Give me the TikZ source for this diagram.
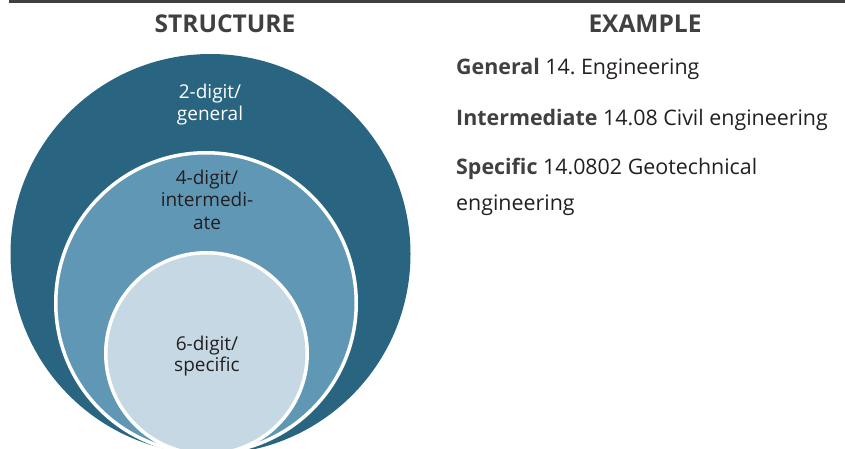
\documentclass[tikz,border=0pt]{standalone}
\usepackage{fontspec}
\setmainfont{Open Sans}
\frenchspacing
\definecolor{darkblue}{RGB}{41,101,129}
\definecolor{midblue}{RGB}{96,151,181}
\definecolor{lightblue}{RGB}{198,216,227}
\definecolor{headgray}{RGB}{64,64,64}
\definecolor{bodyblack}{RGB}{35,31,32}
\tikzset{
  ring/.style={draw=white,line width=3.5pt},
  heading/.style={anchor=base,inner sep=0pt,text=headgray,font=\fontsize{24.5pt}{28pt}\selectfont\bfseries},
  circtext/.style={anchor=base,inner sep=0pt,font=\fontsize{19pt}{22pt}\selectfont},
  example/.style={anchor=base west,inner sep=0pt,text=bodyblack,font=\fontsize{21.4pt}{25pt}\selectfont},
}
\newcommand{\hd}[1]{\textcolor{headgray}{\bfseries #1}}
\begin{document}
\begin{tikzpicture}[x=1pt,y=-1pt]
\useasboundingbox (0,0) rectangle (845,449);
\fill[headgray] (9,0) rectangle (845,3.3);
\begin{scope}
\clip (0,0) rectangle (845,449);
\fill[darkblue] (210.5,254) circle[radius=200pt];
\filldraw[fill=midblue,ring] (206,303) circle[radius=150.25pt];
\filldraw[fill=lightblue,ring] (206.5,353.5) circle[radius=100.75pt];
\end{scope}
\node[heading] (hstruct) at (225,33) {STRUCTURE};
\node[heading] (hexample) at (645,33) {EXAMPLE};
\node[circtext,text=white] (g1) at (210,99) {2-digit/};
\node[circtext,text=white] (g2) at (210,121) {general};
\node[circtext,text=bodyblack] (i1) at (207,184) {4-digit/};
\node[circtext,text=bodyblack] (i2) at (207,206.5) {intermedi-};
\node[circtext,text=bodyblack] (i3) at (207,229) {ate};
\node[circtext,text=bodyblack] (s1) at (207,350) {6-digit/};
\node[circtext,text=bodyblack] (s2) at (207,371.5) {specific};
\node[example] (e1) at (456,75) {\hd{General} 14. Engineering};
\node[example] (e2) at (456,125.5) {\hd{Intermediate} 14.08 Civil engineering};
\node[example] (e3) at (456,175) {\hd{Specific} 14.0802 Geotechnical};
\node[example] (e4) at (456,210) {engineering};
\end{tikzpicture}
\end{document}
